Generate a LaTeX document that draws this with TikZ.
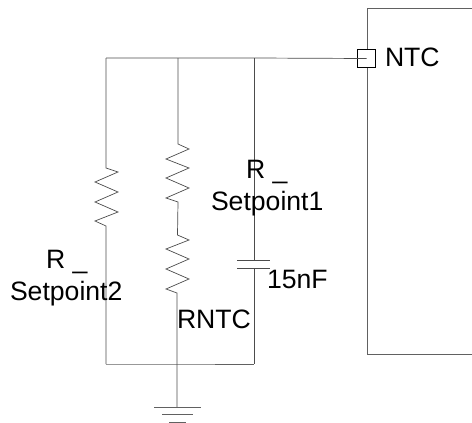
\documentclass[tikz,border=0pt]{standalone}
\usepackage{fontspec}
\setmainfont{Liberation Sans}
\tikzset{
  wire/.style={draw=black!62,line width=0.9pt,line join=miter},
  zig/.style={draw=black!70,line width=0.7pt},
  lbl/.style={inner sep=0pt,outer sep=0pt,font=\fontsize{26.6}{26.6}\selectfont,text=black},
}
\begin{document}
\begin{tikzpicture}[x=1pt,y=-1pt]
\useasboundingbox (0,0) rectangle (472,423);
% coordinates
\coordinate (tl) at (106,58);
\coordinate (tm) at (178,58);
\coordinate (tc) at (254,58);
\coordinate (bl) at (106,364);
\coordinate (bm) at (177,364);
\coordinate (bc) at (254,364);
\coordinate (g) at (177,407);
% IC body
\draw[wire] (472,8) -- (367,8) -- (367,354) -- (472,354);
% pin
\node[draw=black,fill=white,line width=1.1pt,minimum width=18pt,minimum height=18pt,inner sep=0pt] (pin) at (366.5,58.5) {};
% top and bottom rails
\draw[zig] (tl) -- (tm) -- (tc) -- (pin.center);
\draw[wire] (bl) -- (bm) -- (bc);
% R setpoint2
\draw[zig] (tl) -- (106,168) -- (118,172) -- (95,182) -- (118,192) -- (95,202) -- (118,212) -- (95,221) -- (106,226) -- (bl);
% RNTC pair
\draw[zig] (tm) -- (178,144) -- (189,149) -- (166,159) -- (189,168) -- (166,178) -- (189,188) -- (166,198) -- (178,202) -- (177.5,235) -- (189,240) -- (166,249) -- (189,259) -- (166,269) -- (189,279) -- (166,289) -- (177,293) -- (bm) -- (g);
% capacitor
\draw[zig] (tc) -- (254,260);
\draw[zig] (237,260) -- (270,260);
\draw[zig] (237,268) -- (270,268);
\draw[zig] (254,268) -- (bc);
% ground
\draw[wire] (154,407) -- (201,407);
\draw[wire] (162,414.5) -- (193,414.5);
\draw[wire] (169,422) -- (186,422);
% labels
\node[lbl,anchor=base west] (ntc) at (385,66.5) {NTC};
\node[lbl,anchor=base west] (r1) at (246,178) {R \_};
\node[lbl,anchor=base west] (s1) at (211,210) {Setpoint1};
\node[lbl,anchor=base west] (c) at (267,288) {15nF};
\node[lbl,anchor=base west] (r2) at (46,268) {R \_};
\node[lbl,anchor=base west] (s2) at (10,300) {Setpoint2};
\node[lbl,anchor=base west] (rn) at (177,328) {RNTC};
\end{tikzpicture}
\end{document}
